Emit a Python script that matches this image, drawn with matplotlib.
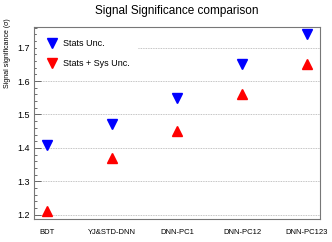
import matplotlib
matplotlib.use("Agg")
import matplotlib.pyplot as plt
from matplotlib.ticker import MultipleLocator

plt.rcParams['font.family'] = ['Liberation Sans', 'DejaVu Sans']

methods = ["BDT", "YJ&STD-DNN", "DNN-PC1", "DNN-PC12", "DNN-PC123"]
stats_unc = [1.41, 1.47, 1.55, 1.65, 1.74]
stats_sys_unc = [1.21, 1.37, 1.45, 1.56, 1.65]

fig = plt.figure(figsize=(3.32, 2.42), dpi=100)
ax = fig.add_axes([0.102, 0.095, 0.862, 0.795])

x = range(len(methods))
ax.yaxis.grid(True, linestyle=(0, (1, 1)), color="#b0b0b0", linewidth=0.6)
ax.set_axisbelow(True)

ax.plot(x, stats_unc, linestyle="none", marker="v", color="blue", markersize=6.5)
ax.plot(x, stats_sys_unc, linestyle="none", marker="^", color="red", markersize=6.5)

ax.set_xlim(-0.2, 4.2)
ax.set_ylim(1.187, 1.763)
ax.set_xticks(list(x))
ax.set_xticklabels(methods, fontsize=5.5)
ax.tick_params(axis="x", length=0, pad=7)
ax.yaxis.set_major_locator(MultipleLocator(0.1))
ax.yaxis.set_minor_locator(MultipleLocator(0.02))
ax.tick_params(axis="y", which="major", direction="in", length=5, labelsize=6.5, width=0.6, color="#555555", pad=3)
ax.tick_params(axis="y", which="minor", direction="in", length=2.5, width=0.6, color="#555555")
for s in ax.spines.values():
    s.set_color("#777777")
    s.set_linewidth(0.8)

ax.set_ylabel("Signal significance (\u03c3)", fontsize=5)
ax.yaxis.set_label_coords(-0.08, 0.86)
ax.set_title("Signal Significance comparison", fontsize=8.5, pad=9)

# legend box
h1, = ax.plot([], [], linestyle="none", marker="v", color="blue", markersize=7)
h2, = ax.plot([], [], linestyle="none", marker="v", color="red", markersize=7)
leg = ax.legend([h1, h2], ["Stats Unc.", "Stats + Sys Unc."], loc="upper left",
                bbox_to_anchor=(0.0, 0.99), fontsize=6.5, frameon=True,
                handletextpad=0.3, labelspacing=1.15, borderpad=0.8,
                handlelength=1.7, borderaxespad=0.4)
leg.get_frame().set_edgecolor("white")
leg.get_frame().set_facecolor("white")
leg.get_frame().set_alpha(1)

fig.savefig("out.png", dpi=100)
